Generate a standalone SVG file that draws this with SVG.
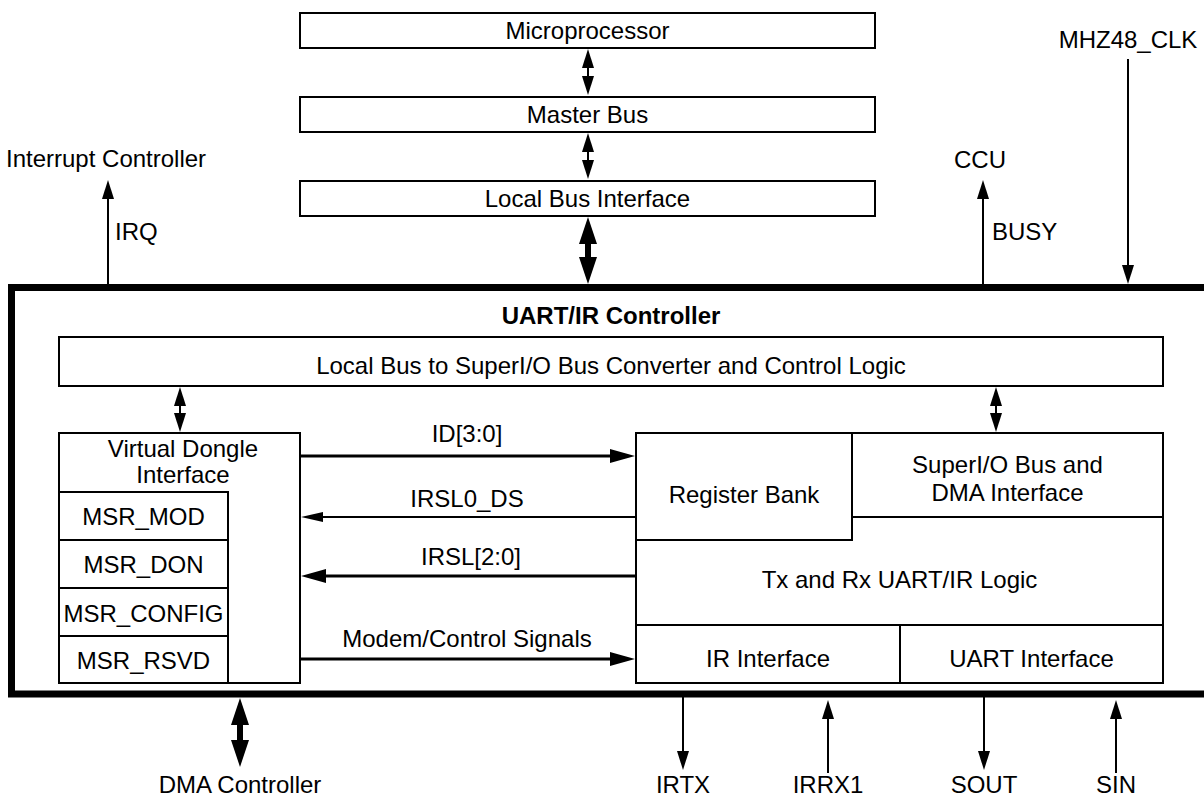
<svg xmlns="http://www.w3.org/2000/svg" width="1204" height="799" viewBox="0 0 1204 799">
<style>
text{font-family:"Liberation Sans",Arial,sans-serif;font-size:24px;fill:#000}
.m{text-anchor:middle}
.b{font-weight:bold}
.box{fill:#fff;stroke:#000;stroke-width:2}
.ln{fill:none;stroke:#000;stroke-width:2}
.c{fill:none;stroke:#000}
</style>
<defs>
<marker id="m1" markerUnits="userSpaceOnUse" markerWidth="19" markerHeight="12" refX="14" refY="6" orient="auto-start-reverse"><path d="M0,0 L19,6 L0,12 z" fill="#000"/></marker>
<marker id="m2" markerUnits="userSpaceOnUse" markerWidth="25" markerHeight="14" refX="17" refY="7" orient="auto-start-reverse"><path d="M0,0 L25,7 L0,14 z" fill="#000"/></marker>
<marker id="m3" markerUnits="userSpaceOnUse" markerWidth="22" markerHeight="10" refX="16" refY="5" orient="auto-start-reverse"><path d="M0,0 L22,5 L0,10 z" fill="#000"/></marker>
<marker id="m4" markerUnits="userSpaceOnUse" markerWidth="27" markerHeight="18" refX="15" refY="9" orient="auto-start-reverse"><path d="M0,0 L27,9 L0,18 z" fill="#000"/></marker>
</defs>
<rect width="1204" height="799" fill="#fff"/>

<g id="uart-ir-controller">
<rect x="11.5" y="287.5" width="1210" height="406.5" fill="none" stroke="#000" stroke-width="7"/>
<text x="611" y="324" class="m b">UART/IR Controller</text>
</g>

<g id="microprocessor">
<rect class="box" x="300" y="13" width="575" height="35"/>
<text x="587.5" y="39" class="m">Microprocessor</text>
</g>
<g id="master-bus">
<rect class="box" x="300" y="97" width="575" height="35"/>
<text x="587.5" y="123" class="m">Master Bus</text>
</g>
<g id="local-bus-interface">
<rect class="box" x="300" y="181" width="575" height="35"/>
<text x="587.5" y="207" class="m">Local Bus Interface</text>
</g>

<g id="interrupt-controller"><text x="6" y="167">Interrupt Controller</text></g>
<g id="ccu"><text x="980" y="168" class="m">CCU</text></g>
<g id="mhz48-clk"><text x="1128" y="48" class="m">MHZ48_CLK</text></g>

<g id="bus-converter">
<rect class="box" x="59" y="337" width="1104" height="49"/>
<text x="611" y="374" class="m">Local Bus to SuperI/O Bus Converter and Control Logic</text>
</g>

<g id="virtual-dongle">
<rect class="box" x="59" y="433" width="241" height="250"/>
<text x="183" y="457" class="m">Virtual Dongle</text>
<text x="183" y="483" class="m">Interface</text>
<rect class="box" x="59" y="492" width="169" height="191"/>
<path class="ln" d="M59,540 H228 M59,588 H228 M59,636 H228"/>
<text x="143.5" y="525" class="m">MSR_MOD</text>
<text x="143.5" y="573" class="m">MSR_DON</text>
<text x="143.5" y="622" class="m">MSR_CONFIG</text>
<text x="143.5" y="669" class="m">MSR_RSVD</text>
</g>

<g id="uart-core">
<rect class="box" x="636" y="433" width="527" height="250"/>
<path class="ln" d="M852,433 V540 H636 M852,517 H1163 M636,625 H1163 M900,625 V683"/>
<g id="register-bank"><text x="744" y="503" class="m">Register Bank</text></g>
<g id="superio-dma"><text x="1007.5" y="473" class="m">SuperI/O Bus and</text><text x="1007.5" y="501" class="m">DMA Interface</text></g>
<g id="txrx-logic"><text x="899.5" y="588" class="m">Tx and Rx UART/IR Logic</text></g>
<g id="ir-interface"><text x="768" y="667" class="m">IR Interface</text></g>
<g id="uart-interface"><text x="1031.5" y="667" class="m">UART Interface</text></g>
</g>

<g id="dma-controller"><text x="240" y="793" class="m">DMA Controller</text></g>
<g id="irtx"><text x="683" y="793" class="m">IRTX</text></g>
<g id="irrx1"><text x="828" y="793" class="m">IRRX1</text></g>
<g id="sout"><text x="984" y="793" class="m">SOUT</text></g>
<g id="sin"><text x="1116" y="793" class="m">SIN</text></g>

<g id="connectors">
<line class="c" stroke-width="2" x1="588" y1="54" x2="588" y2="90" marker-start="url(#m1)" marker-end="url(#m1)"/>
<line class="c" stroke-width="2" x1="588" y1="138" x2="588" y2="174" marker-start="url(#m1)" marker-end="url(#m1)"/>
<line class="c" stroke-width="6" x1="588" y1="229" x2="588" y2="272" marker-start="url(#m4)" marker-end="url(#m4)"/>
<line class="c" stroke-width="2" x1="108" y1="284" x2="108" y2="185" marker-end="url(#m1)"/>
<text x="115" y="240">IRQ</text>
<line class="c" stroke-width="2" x1="983" y1="284" x2="983" y2="185" marker-end="url(#m1)"/>
<text x="992" y="240">BUSY</text>
<line class="c" stroke-width="2" x1="1128" y1="59" x2="1128" y2="279" marker-end="url(#m1)"/>
<line class="c" stroke-width="2" x1="180" y1="392" x2="180" y2="427" marker-start="url(#m1)" marker-end="url(#m1)"/>
<line class="c" stroke-width="2" x1="996" y1="392" x2="996" y2="427" marker-start="url(#m1)" marker-end="url(#m1)"/>
<line class="c" stroke-width="3" x1="301" y1="456" x2="627" y2="456" marker-end="url(#m2)"/>
<text x="467" y="442" class="m">ID[3:0]</text>
<line class="c" stroke-width="2" x1="635" y1="517" x2="307" y2="517" marker-end="url(#m3)"/>
<text x="467" y="507" class="m">IRSL0_DS</text>
<line class="c" stroke-width="3" x1="635" y1="576" x2="309" y2="576" marker-end="url(#m2)"/>
<text x="471" y="565" class="m">IRSL[2:0]</text>
<line class="c" stroke-width="3" x1="301" y1="659" x2="627" y2="659" marker-end="url(#m2)"/>
<text x="467" y="647" class="m">Modem/Control Signals</text>
<line class="c" stroke-width="6" x1="240" y1="710" x2="240" y2="755" marker-start="url(#m4)" marker-end="url(#m4)"/>
<line class="c" stroke-width="2" x1="683" y1="697" x2="683" y2="765" marker-end="url(#m1)"/>
<line class="c" stroke-width="2" x1="828" y1="773" x2="828" y2="705" marker-end="url(#m1)"/>
<line class="c" stroke-width="2" x1="984" y1="697" x2="984" y2="765" marker-end="url(#m1)"/>
<line class="c" stroke-width="2" x1="1116" y1="773" x2="1116" y2="705" marker-end="url(#m1)"/>
</g>
</svg>
